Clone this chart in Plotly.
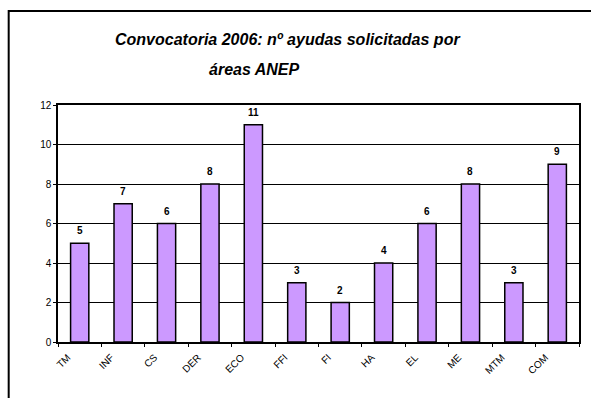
import plotly.graph_objects as go

# Áreas ANEP y número de ayudas solicitadas
areas = ["TM", "INF", "CS", "DER", "ECO", "FFI", "FI", "HA", "EL", "ME", "MTM", "COM"]
ayudas = [5, 7, 6, 8, 11, 3, 2, 4, 6, 8, 3, 9]
y_ticks = [0, 2, 4, 6, 8, 10, 12]

FONT = "Liberation Sans, Arial, sans-serif"

fig = go.Figure()
fig.add_trace(go.Bar(
    x=areas,
    y=ayudas,
    width=0.42,
    marker=dict(color="#CC99FF", line=dict(color="black", width=1.5)),
    hoverinfo="x+y",
))

# Etiquetas de valor sobre cada barra
for a, v in zip(areas, ayudas):
    fig.add_annotation(
        x=a, y=v, text=f"<b>{v}</b>", showarrow=False,
        yanchor="bottom", yshift=5,
        font=dict(family=FONT, size=10, color="black"),
    )

# Título en dos líneas
fig.add_annotation(
    xref="paper", yref="paper", x=(288 - 58) / 523, y=(342 - 39) / 237,
    text="<b><i>Convocatoria 2006: nº ayudas solicitadas por</i></b>",
    showarrow=False, xanchor="center", yanchor="middle",
    font=dict(family=FONT, size=16, color="black"),
)
fig.add_annotation(
    xref="paper", yref="paper", x=(255 - 58) / 523, y=(342 - 69) / 237,
    text="<b><i>áreas ANEP</i></b>",
    showarrow=False, xanchor="center", yanchor="middle",
    font=dict(family=FONT, size=16, color="black"),
)

# Marco exterior del gráfico
fig.add_shape(
    type="rect", xref="paper", yref="paper",
    x0=(8.5 - 58) / 523, x1=1.2, y0=-0.5, y1=(342 - 11) / 237,
    line=dict(color="black", width=2), fillcolor="rgba(0,0,0,0)",
    layer="below",
)

fig.update_layout(
    width=591, height=398,
    margin=dict(l=58, r=10, t=105, b=56),
    paper_bgcolor="white", plot_bgcolor="white",
    showlegend=False,
    font=dict(family=FONT, color="black"),
    xaxis=dict(
        type="category",
        showline=True, linecolor="black", linewidth=1.5, mirror=True,
        ticks="outside", ticklen=3, tickcolor="black", tickson="boundaries",
        tickangle=-45, tickfont=dict(size=10, family=FONT),
        showgrid=False,
        ticklabelshift=-12,
        ticklabelstandoff=4,
    ),
    yaxis=dict(
        range=[0, 12], tickvals=y_ticks,
        showline=True, linecolor="black", linewidth=1.5, mirror=True,
        ticks="outside", ticklen=3, tickcolor="black",
        showgrid=True, gridcolor="black", gridwidth=1.3,
        tickfont=dict(size=10, family=FONT),
        zeroline=False,
    ),
)

fig.write_html("out.html")
